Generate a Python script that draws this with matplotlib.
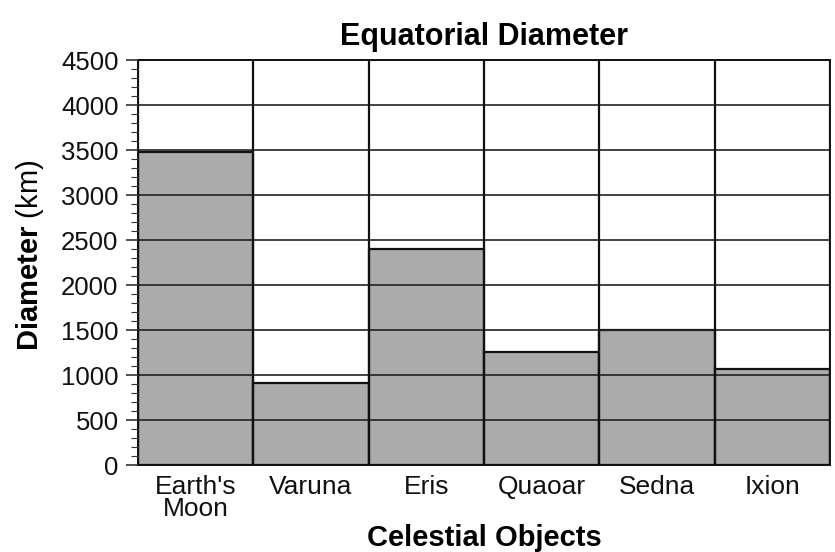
import matplotlib
matplotlib.use('Agg')
import matplotlib.pyplot as plt
from matplotlib.ticker import MultipleLocator

plt.rcParams['font.family'] = ['Liberation Sans', 'DejaVu Sans']
plt.rcParams['mathtext.fontset'] = 'custom'
plt.rcParams['mathtext.bf'] = 'Liberation Sans:bold'
plt.rcParams['mathtext.rm'] = 'Liberation Sans'

# Data
objects = ["Earth's\nMoon", 'Varuna', 'Eris', 'Quaoar', 'Sedna', 'Ixion']
diameters = [3475, 910, 2400, 1260, 1500, 1070]

fig = plt.figure(figsize=(8.35, 5.52), dpi=100)
ax = fig.add_axes([0.1653, 0.1576, 0.8287, 0.7337])
ax.set_axisbelow(False)

x = range(len(objects))
ax.bar(x, diameters, width=1.0, color='#ababab', edgecolor='#111111',
       linewidth=1.6, zorder=1)

# horizontal grid lines drawn over the bars
for yv in range(500, 4501, 500):
    ax.axhline(yv, color='#222222', linewidth=1.2, zorder=1.5)
# vertical separators between columns
for xv in range(len(objects) + 1):
    ax.axvline(xv - 0.5, color='#111111', linewidth=1.6, zorder=1.5)

ax.set_xlim(-0.5, len(objects) - 0.5)
ax.set_ylim(0, 4500)
ax.yaxis.set_major_locator(MultipleLocator(500))
ax.yaxis.set_minor_locator(MultipleLocator(100))
ax.tick_params(axis='y', which='major', direction='out', length=9, width=1.2,
               labelsize=18.5, pad=5, color='#333333', labelcolor='#111111')
ax.tick_params(axis='y', which='minor', direction='out', length=5, width=0.8,
               color='#333333')
ax.set_xticks(list(x))
ax.set_xticklabels(objects, fontsize=19, linespacing=0.9, color='#111111')
ax.tick_params(axis='x', length=0, pad=7)

for s in ax.spines.values():
    s.set_linewidth(1.4)
    s.set_color('#111111')

ax.set_title('Equatorial Diameter', fontsize=22, fontweight='bold', pad=11)
ax.set_xlabel('Celestial Objects', fontsize=21, fontweight='bold', labelpad=2)
ax.set_ylabel(r'$\bf{Diameter}$ (km)', fontsize=21)
ax.yaxis.set_label_coords(-0.133, 0.518)

fig.savefig('out.png', dpi=100)
